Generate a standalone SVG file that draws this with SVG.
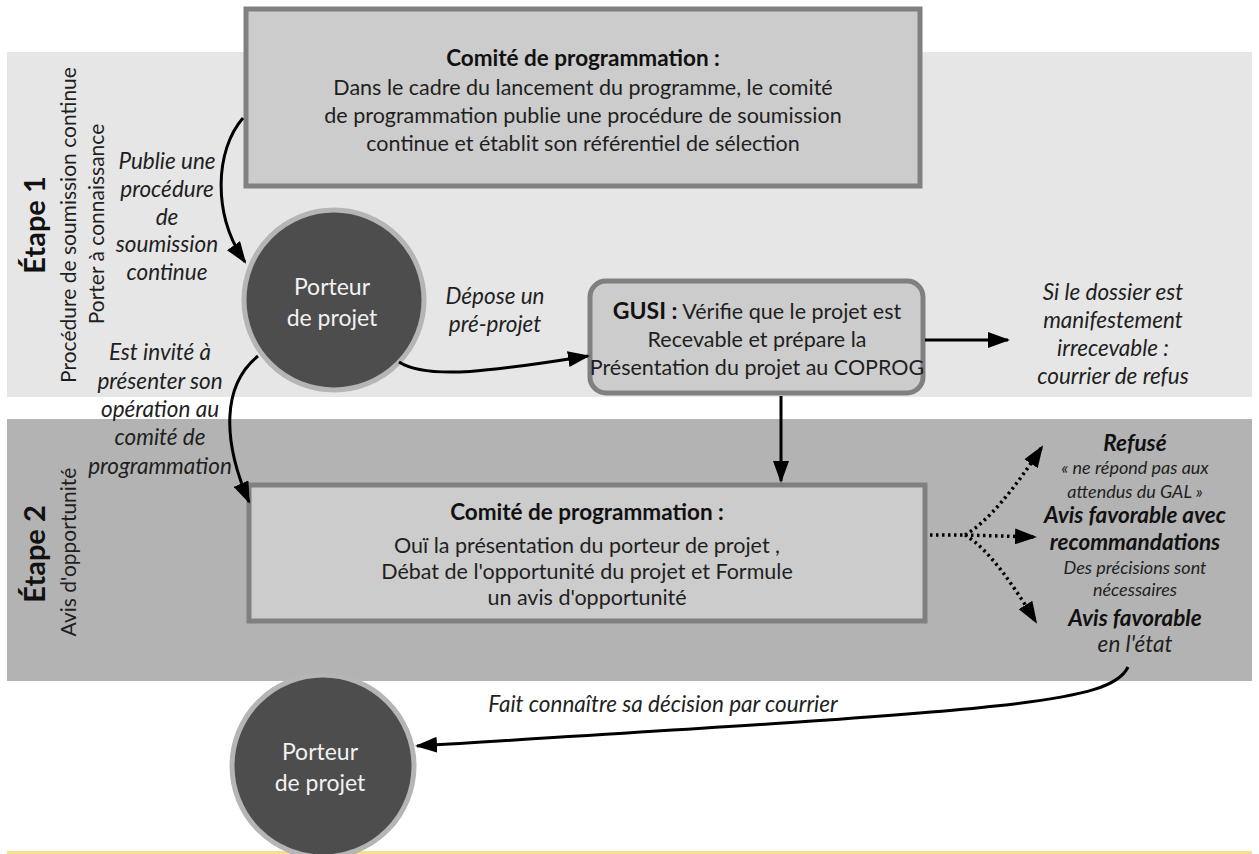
<svg xmlns="http://www.w3.org/2000/svg" width="1259" height="854" viewBox="0 0 1259 854">
<defs>
<marker id="ah" markerUnits="userSpaceOnUse" markerWidth="22" markerHeight="16" refX="20" refY="8" orient="auto">
<path d="M0,0 L22,8 L0,16 z" fill="#000"/>
</marker>
<style>
text{font-family:Lato,"Liberation Sans",sans-serif;fill:#1f1f1f;text-anchor:middle}
.body{font-size:21.5px}
.title{font-size:22.5px;font-weight:bold;fill:#111}
.it{font-size:22.5px;font-style:italic}
.sm{font-size:18px;font-style:italic}
.bi{font-size:22.5px;font-style:italic;font-weight:bold;fill:#111}
.box{fill:#cccccc;stroke:#808080;stroke-width:5}
.circ{fill:#4d4d4d;stroke:#b5b5b5;stroke-width:5}
.ctext{font-size:23px;fill:#f2f2f2}
.stage{font-size:29px;font-weight:bold;fill:#111}
.sub{font-size:21px}
.conn path{fill:none;stroke:#000;stroke-width:3}
.conn path.dot{stroke-dasharray:2.5 3.5;stroke-width:3.5}
</style>
</defs>
<rect x="0" y="0" width="1259" height="854" fill="#ffffff"/>
<g id="band1">
<rect x="7" y="52" width="1245" height="345" fill="#e6e6e6"/>
<text class="stage" transform="translate(45,225) rotate(-90)">Étape 1</text>
<text class="sub" transform="translate(76,225) rotate(-90)">Procédure de soumission continue</text>
<text class="sub" transform="translate(104,224) rotate(-90)">Porter à connaissance</text>
</g>
<g id="band2">
<rect x="7" y="419" width="1245" height="262" fill="#b3b3b3"/>
<text class="stage" transform="translate(45,554) rotate(-90)">Étape 2</text>
<text class="sub" transform="translate(76,552) rotate(-90)">Avis d'opportunité</text>
</g>
<rect x="7" y="851" width="1245" height="3" fill="#f5e08e"/>
<g id="comite1">
<rect class="box" x="246" y="9" width="674" height="177"/>
<text class="title" x="583" y="66">Comité de programmation :</text>
<text class="body" x="583" y="95">Dans le cadre du lancement du programme, le comité</text>
<text class="body" x="583" y="123">de programmation publie une procédure de soumission</text>
<text class="body" x="583" y="151">continue et établit son référentiel de sélection</text>
</g>
<g id="porteur1">
<circle class="circ" cx="334" cy="300" r="90"/>
<text class="ctext" x="332" y="295">Porteur</text>
<text class="ctext" x="332" y="326">de projet</text>
</g>
<g id="gusi">
<rect class="box" x="590" y="281" width="333" height="112" rx="16"/>
<text class="body" x="757" y="319" font-size="21px"><tspan font-weight="bold" font-size="23px" fill="#111">GUSI :</tspan> Vérifie que le projet est</text>
<text class="body" x="757" y="347" font-size="21px">Recevable et prépare la</text>
<text class="body" x="757" y="375" font-size="21px">Présentation du projet au COPROG</text>
</g>
<g id="refus">
<text class="it" x="1113" y="300">Si le dossier est</text>
<text class="it" x="1113" y="328">manifestement</text>
<text class="it" x="1113" y="356">irrecevable :</text>
<text class="it" x="1113" y="384">courrier de refus</text>
</g>
<g id="comite2">
<rect class="box" x="249" y="485" width="676" height="136"/>
<text class="title" x="587" y="520">Comité de programmation :</text>
<text class="body" x="587" y="553">Ouï la présentation du porteur de projet ,</text>
<text class="body" x="587" y="579">Débat de l'opportunité du projet et Formule</text>
<text class="body" x="587" y="605">un avis d'opportunité</text>
</g>
<g id="decisions">
<text class="bi" x="1135" y="451">Refusé</text>
<text class="sm" x="1135" y="474">« ne répond pas aux</text>
<text class="sm" x="1135" y="498">attendus du GAL »</text>
<text class="bi" x="1135" y="523">Avis favorable avec</text>
<text class="bi" x="1135" y="550">recommandations</text>
<text class="sm" x="1135" y="574">Des précisions sont</text>
<text class="sm" x="1135" y="596">nécessaires</text>
<text class="bi" x="1135" y="626">Avis favorable</text>
<text class="it" x="1135" y="652" font-size="19px">en l'état</text>
</g>
<g id="porteur2">
<circle class="circ" cx="323" cy="766" r="91"/>
<text class="ctext" x="320" y="760">Porteur</text>
<text class="ctext" x="320" y="791">de projet</text>
</g>
<g id="labels">
<text class="it" x="167" y="169">Publie une</text>
<text class="it" x="167" y="197">procédure</text>
<text class="it" x="167" y="225">de</text>
<text class="it" x="167" y="252">soumission</text>
<text class="it" x="167" y="280">continue</text>
<text class="it" x="160" y="360">Est invité à</text>
<text class="it" x="160" y="389">présenter son</text>
<text class="it" x="160" y="417">opération au</text>
<text class="it" x="160" y="445">comité de</text>
<text class="it" x="160" y="474">programmation</text>
<text class="it" x="495" y="304">Dépose un</text>
<text class="it" x="495" y="332">pré-projet</text>
<text class="it" x="663" y="712">Fait connaître sa décision par courrier</text>
</g>
<g class="conn" id="connectors">
<path d="M243,118 C215,150 212,215 245,262" marker-end="url(#ah)"/>
<path d="M258,356 C222,385 222,440 249,502" marker-end="url(#ah)"/>
<path d="M399,362 C430,382 510,368 588,356" marker-end="url(#ah)"/>
<path d="M781,396 L781,481" marker-end="url(#ah)"/>
<path d="M925,340 L1008,340" marker-end="url(#ah)"/>
<path d="M1128,667 C1110,705 1000,710 417,746" marker-end="url(#ah)"/>
<path class="dot" d="M930,535 L965,535"/>
<path class="dot" d="M965,535 C988,522 1015,488 1042,447" marker-end="url(#ah)"/>
<path class="dot" d="M965,535 L1035,537" marker-end="url(#ah)"/>
<path class="dot" d="M965,535 C990,550 1015,588 1036,622" marker-end="url(#ah)"/>
</g>
</svg>
